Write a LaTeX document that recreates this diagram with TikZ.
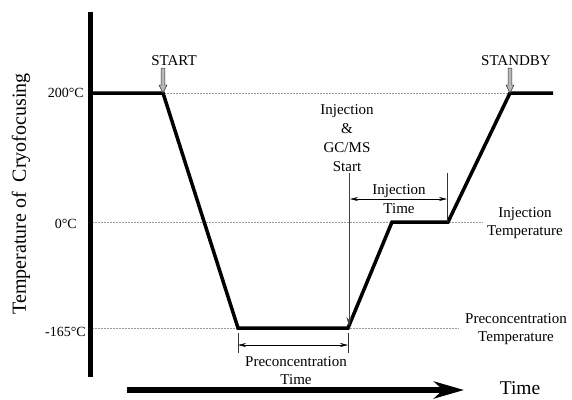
\documentclass[tikz,border=0pt]{standalone}
\usepackage{fontspec}
\setmainfont{Liberation Serif}
\usetikzlibrary{arrows.meta}
\begin{document}
\begin{tikzpicture}[x=1pt,y=-1pt,
  curve/.style={line width=3.5pt},
  guide/.style={densely dotted, gray!80, line width=0.5pt},
  axisline/.style={line width=5pt},
  dimarrow/.style={line width=0.6pt, {Stealth[length=8pt,width=4pt]}-{Stealth[length=8pt,width=4pt]}},
  ticklin/.style={line width=0.5pt, gray!40!black},
  lab/.style={font=\fontsize{15}{18}\selectfont, inner sep=0pt, align=center},
  templab/.style={font=\fontsize{14}{16}\selectfont, inner sep=0pt, anchor=east},
  marker/.pic={\draw[fill=gray!55, draw=black!80, line width=0.5pt]
     (-1.8,-25) -- (1.8,-25) -- (1.8,-8) -- (4,-8) -- (0,0) -- (-4,-8) -- (-1.8,-8) -- cycle;}
]
\useasboundingbox (0,0) rectangle (572,399);

% key points
\coordinate (ytop) at (90,12);
\coordinate (ybot) at (90,377);
\coordinate (a0) at (90,93);
\coordinate (s) at (163,93);
\coordinate (b) at (238,328);
\coordinate (c) at (348,328);
\coordinate (d) at (392,222);
\coordinate (e) at (448,222);
\coordinate (f) at (510,93);
\coordinate (g) at (553,93);
\coordinate (z0) at (90,222);
\coordinate (z1) at (483,222);
\coordinate (m0) at (90,328);
\coordinate (m1) at (458,328);

% guides
\draw[guide] (a0) -- (f);
\draw[guide] (z0) -- (z1);
\draw[guide] (m0) -- (m1);

% axes
\draw[axisline] (ytop) -- (ybot);
\coordinate (t0) at (127,390);
\coordinate (t1) at (464,390);
\draw[line width=6pt, -{Stealth[length=30pt,width=17pt,inset=9pt]}] (t0) -- (t1);

% temperature program
\draw[curve] (a0) -- (s) -- (b) -- (c) -- (d) -- (e) -- (f) -- (g);

% markers
\pic at (s) {marker};
\pic at (f) {marker};
\node[lab] (startlab) at (174,61) {START};
\node[lab] (standbylab) at (516,61) {STANDBY};

% injection & GC/MS start
\node[lab, font=\fontsize{15}{19}\selectfont] (inj) at (347,138) {Injection\\\&\\GC/MS\\Start};
\coordinate (ia) at (349,173);
\coordinate (ib) at (349,326);
\draw[line width=0.6pt, gray!50!black, -{Stealth[length=9pt,width=5pt]}] (ia) -- (ib);

% injection time
\coordinate (it0) at (447,173);
\coordinate (it1) at (447,222);
\draw[ticklin] (it0) -- (it1);
\coordinate (ita) at (350,199);
\coordinate (itb) at (447,199);
\draw[dimarrow] (ita) -- (itb);
\node[lab, anchor=south] (injt1) at (399,197.5) {Injection};
\node[lab, anchor=north] (injt2) at (399,203) {Time};

% preconcentration time
\coordinate (pt0) at (238,333);
\coordinate (pt1) at (238,353);
\coordinate (pt2) at (348,333);
\coordinate (pt3) at (348,353);
\draw[ticklin] (pt0) -- (pt1);
\draw[ticklin] (pt2) -- (pt3);
\coordinate (pa) at (238,345);
\coordinate (pb) at (348,345);
\draw[dimarrow] (pa) -- (pb);
\node[lab] (pretime) at (296,371) {Preconcentration\\Time};

% temperature labels
\node[templab] (t200) at (84,93) {200°C};
\node[templab] (t0lab) at (77,224) {0°C};
\node[templab] (t165) at (86,332) {-165°C};

\node[lab] (injtemp) at (525,223) {Injection\\Temperature};
\node[lab] (pretemp) at (516,329) {Preconcentration\\Temperature};

% axis labels
\node[font=\fontsize{20}{24}\selectfont, rotate=90, inner sep=0pt] (ylab) at (21,194) {Temperature of~~Cryofocusing};
\node[font=\fontsize{19.5}{23}\selectfont, inner sep=0pt] (xlab) at (520,388.5) {Time};
\end{tikzpicture}
\end{document}
